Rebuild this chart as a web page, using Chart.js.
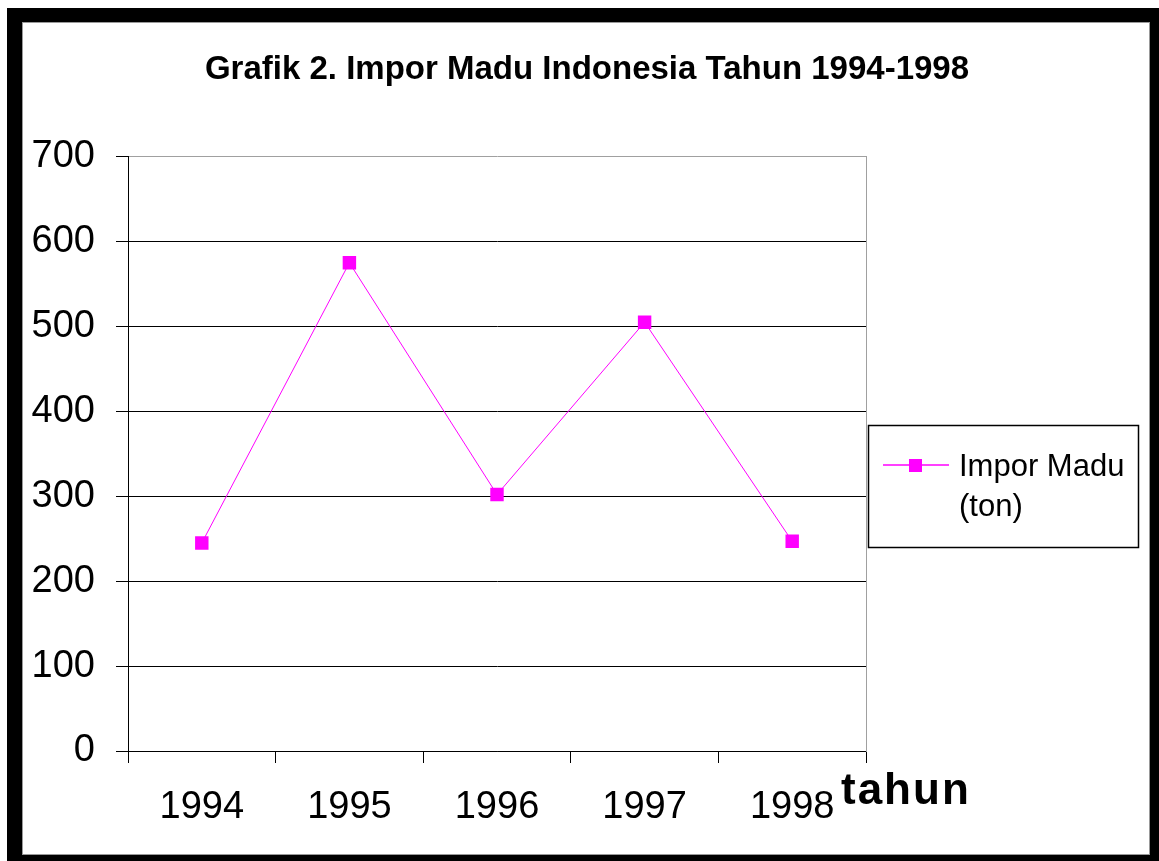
<!DOCTYPE html>
<html>
<head>
<meta charset="utf-8">
<script src="https://cdn.jsdelivr.net/npm/chart.js@4/dist/chart.umd.min.js"></script>
<style>
  body { margin: 0; background: #fff; }
  #frame { position: absolute; left: 7px; top: 8px; width: 1152px; height: 853px; background: #000; }
  #inner { position: absolute; left: 15px; top: 14px; width: 1128px; height: 833px; background: #fff; border: 1px solid #999; box-sizing: border-box; }
  #wrap { position: absolute; left: 0; top: 0; width: 1159px; height: 861px; }
</style>
</head>
<body>
<div id="frame"><div id="inner"></div></div>
<div id="wrap"><canvas id="chart" width="1159" height="861"></canvas></div>
<script>
var years = ["1994", "1995", "1996", "1997", "1998"];
var imporMadu = [245, 575, 302, 505, 247];
var seriesLabel = ["Impor Madu", "(ton)"];
var yTicks = [0, 100, 200, 300, 400, 500, 600, 700];
var chartTitle = "Grafik 2. Impor Madu Indonesia Tahun 1994-1998";
var xTitle = "tahun";

Chart.defaults.font.family = '"Liberation Sans", Arial, sans-serif';
Chart.defaults.color = "#000";

// legend box and the "tahun" caption, drawn after the chart
const extras = {
  id: "extras",
  afterDraw(chart) {
    const ctx = chart.ctx;
    ctx.save();
    ctx.strokeStyle = "#000";
    ctx.lineWidth = 1.5;
    ctx.strokeRect(868.5, 425.5, 270, 122);

    ctx.strokeStyle = "#ff00ff";
    ctx.lineWidth = 1.5;
    ctx.beginPath();
    ctx.moveTo(883, 465);
    ctx.lineTo(949, 465);
    ctx.stroke();
    ctx.fillStyle = "#ff00ff";
    ctx.fillRect(909, 459, 13, 13);

    ctx.fillStyle = "#000";
    ctx.font = '31px "Liberation Sans", Arial, sans-serif';
    ctx.textBaseline = "alphabetic";
    ctx.textAlign = "left";
    seriesLabel.forEach((line, i) => {
      ctx.fillText(line, 959, 476 + i * 40);
    });

    ctx.font = 'bold 44px "Liberation Sans", Arial, sans-serif';
    ctx.letterSpacing = "2px";
    ctx.fillText(xTitle, 841, 804);
    ctx.restore();
  },
};

const ctx = document.getElementById("chart").getContext("2d");
const chart = new Chart(ctx, {
  type: "line",
  data: {
    labels: years,
    datasets: [
      {
        label: seriesLabel.join(" "),
        data: imporMadu,
        borderColor: "#ff00ff",
        borderWidth: 1,
        tension: 0,
        pointStyle: "rect",
        pointRadius: 9.5,
        pointHoverRadius: 9.5,
        pointBackgroundColor: "#ff00ff",
        pointBorderWidth: 0,
      },
    ],
  },
  options: {
    responsive: false,
    animation: false,
    layout: { padding: { left: 15, right: 0, top: 0, bottom: 0 } },
    plugins: {
      legend: { display: false },
      tooltip: { enabled: false },
      title: {
        display: true,
        text: chartTitle,
        color: "#000",
        font: { size: 33, weight: "bold" },
        padding: { top: 50, bottom: 67 },
      },
    },
    scales: {
      x: {
        type: "category",
        offset: true,
        grid: {
          display: true,
          offset: true,
          drawOnChartArea: false,
          drawTicks: true,
          tickLength: 12,
          color: "#000",
        },
        border: { display: true, color: "#000", width: 1 },
        ticks: { font: { size: 38 }, padding: 22, maxRotation: 0, autoSkip: false, color: "#000" },
        afterFit: (scale) => { scale.height = 110; },
      },
      y: {
        min: 0,
        max: 700,
        afterBuildTicks: (scale) => { scale.ticks = yTicks.map((v) => ({ value: v })); },
        grid: {
          color: (c) => (c.tick && c.tick.value === 700 ? "#a0a0a0" : "#000"),
          tickColor: "#000",
          tickLength: 12,
          lineWidth: 1,
        },
        border: { display: true, color: "#000", width: 1 },
        ticks: { font: { size: 38 }, padding: 21, color: "#000" },
        afterFit: (scale) => { scale.width = 113; },
      },
      y2: {
        position: "right",
        display: true,
        min: 0,
        max: 700,
        grid: { display: false, drawTicks: false },
        border: { display: true, color: "#a0a0a0", width: 1 },
        ticks: { display: false },
        afterFit: (scale) => { scale.width = 293; },
      },
    },
  },
  plugins: [extras],
});
</script>
</body>
</html>
